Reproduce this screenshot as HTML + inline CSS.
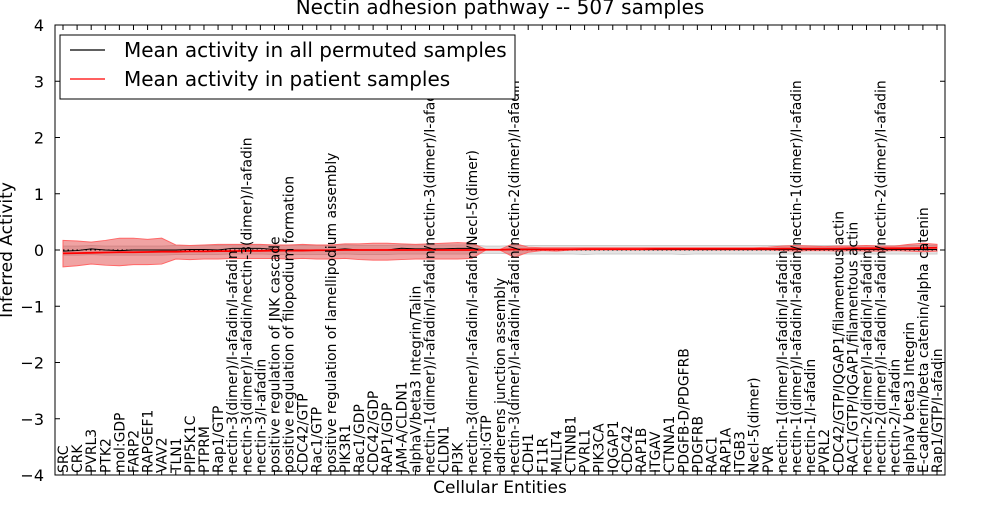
<!DOCTYPE html>
<html><head><meta charset="utf-8"><style>
body{margin:0;background:#fff}
svg text{font-family:"DejaVu Sans","Liberation Sans",sans-serif}
</style></head><body>
<svg id="chart" width="1000" height="500" xmlns="http://www.w3.org/2000/svg">
<rect width="1000" height="500" fill="#fff"/>
<g id="bands"></g>
<g id="lines"></g>
<g id="ticks"></g>
<g id="xlabels"></g>
<rect x="55" y="25" width="890" height="450" fill="none" stroke="#000" stroke-width="1"/>
<text x="500" y="14" font-size="20" text-anchor="middle">Nectin adhesion pathway -- 507 samples</text>
<text transform="translate(12,250) rotate(-90)" font-size="17" text-anchor="middle">Inferred Activity</text>
<text x="500" y="493" font-size="17" text-anchor="middle">Cellular Entities</text>
<g>
<rect x="60" y="35" width="455" height="64" fill="#fff" stroke="#000" stroke-width="1"/>
<line x1="70" y1="50" x2="105" y2="50" stroke="#000" stroke-width="1.2"/>
<text x="124" y="57" font-size="20">Mean activity in all permuted samples</text>
<line x1="70" y1="79" x2="105" y2="79" stroke="#f00" stroke-width="1.2"/>
<text x="124" y="86" font-size="20">Mean activity in patient samples</text>
</g>
</svg>
<script>
const categories=["SRC","CRK","PVRL3","PTK2","mol:GDP","FARP2","RAPGEF1","VAV2","TLN1","PIP5K1C","PTPRM","Rap1/GTP","nectin-3(dimer)/I-afadin/I-afadin","nectin-3(dimer)/I-afadin/nectin-3(dimer)/I-afadin","nectin-3/I-afadin","positive regulation of JNK cascade","positive regulation of filopodium formation","CDC42/GTP","Rac1/GTP","positive regulation of lamellipodium assembly","PIK3R1","Rac1/GDP","CDC42/GDP","RAP1/GDP","JAM-A/CLDN1","alphaV/beta3 Integrin/Talin","nectin-1(dimer)/I-afadin/I-afadin/nectin-3(dimer)/I-afadin","CLDN1","PI3K","nectin-3(dimer)/I-afadin/I-afadin/Necl-5(dimer)","mol:GTP","adherens junction assembly","nectin-3(dimer)/I-afadin/I-afadin/nectin-2(dimer)/I-afadin","CDH1","F11R","MLLT4","CTNNB1","PVRL1","PIK3CA","IQGAP1","CDC42","RAP1B","ITGAV","CTNNA1","PDGFB-D/PDGFRB","PDGFRB","RAC1","RAP1A","ITGB3","Necl-5(dimer)","PVR","nectin-1(dimer)/I-afadin/I-afadin","nectin-1(dimer)/I-afadin/I-afadin/nectin-1(dimer)/I-afadin","nectin-1/I-afadin","PVRL2","CDC42/GTP/IQGAP1/filamentous actin","RAC1/GTP/IQGAP1/filamentous actin","nectin-2(dimer)/I-afadin/I-afadin","nectin-2(dimer)/I-afadin/I-afadin/nectin-2(dimer)/I-afadin","nectin-2/I-afadin","alphaV beta3 Integrin","E-cadherin/beta catenin/alpha catenin","Rap1/GTP/I-afadin"];
const permMean=[-0.02,-0.01,0.02,0,-0.01,0,0,0,0,0.01,0.01,0,0.03,0.03,0.03,0.01,0,0,0,0,0.02,0,0,0,0.03,0.02,0.02,0.02,0.03,0.03,0,0,0.02,0.01,0.01,0.01,0.01,0.01,0.01,0.01,0.01,0.01,0.01,0.01,0.01,0.01,0.01,0.01,0.01,0.01,0.01,0.01,0.01,0.01,0.01,0.01,0.01,0.01,0.01,0.01,0.01,0.01,0.01];
const permLow=[-0.09,-0.09,-0.08,-0.09,-0.09,-0.09,-0.09,-0.09,-0.08,-0.08,-0.08,-0.08,-0.07,-0.07,-0.07,-0.08,-0.08,-0.08,-0.08,-0.08,-0.07,-0.08,-0.08,-0.08,-0.07,-0.07,-0.07,-0.07,-0.07,-0.07,-0.06,-0.06,-0.07,-0.07,-0.07,-0.07,-0.07,-0.08,-0.07,-0.07,-0.07,-0.07,-0.07,-0.07,-0.08,-0.07,-0.07,-0.07,-0.07,-0.07,-0.07,-0.07,-0.07,-0.07,-0.07,-0.07,-0.07,-0.07,-0.07,-0.07,-0.07,-0.07,-0.07];
const permHigh=[0.07,0.07,0.08,0.07,0.07,0.07,0.07,0.07,0.08,0.08,0.08,0.08,0.09,0.09,0.09,0.08,0.08,0.08,0.08,0.08,0.09,0.08,0.08,0.08,0.09,0.09,0.09,0.09,0.09,0.09,0.07,0.07,0.08,0.08,0.08,0.08,0.08,0.08,0.08,0.08,0.08,0.08,0.08,0.08,0.08,0.08,0.08,0.08,0.08,0.08,0.08,0.08,0.08,0.08,0.08,0.08,0.08,0.08,0.08,0.08,0.08,0.08,0.08];
const patMean=[-0.06,-0.055,-0.05,-0.045,-0.04,-0.04,-0.035,-0.03,-0.03,-0.025,-0.025,-0.02,-0.02,-0.015,-0.015,-0.01,-0.01,-0.01,-0.005,-0.005,0,0,0,0,0,0,0,0,0,0,0.005,0.005,0.01,0.01,0.01,0.01,0.01,0.015,0.015,0.015,0.015,0.015,0.02,0.02,0.02,0.02,0.02,0.02,0.02,0.02,0.02,0.025,0.025,0.025,0.025,0.025,0.03,0.03,0.03,0.03,0.03,0.035,0.04];
const patLow=[-0.3,-0.28,-0.25,-0.27,-0.28,-0.26,-0.26,-0.25,-0.16,-0.17,-0.16,-0.16,-0.15,-0.15,-0.15,-0.15,-0.16,-0.15,-0.16,-0.16,-0.15,-0.17,-0.18,-0.18,-0.17,-0.16,-0.16,-0.16,-0.16,-0.15,0,0,-0.13,-0.04,-0.01,-0.02,0,0,0,0,0,0,0,0,0,0,0,0,0,0,0,-0.01,-0.02,-0.01,-0.01,-0.02,-0.01,-0.02,-0.02,-0.01,-0.02,-0.03,-0.02];
const patHigh=[0.17,0.16,0.14,0.17,0.21,0.21,0.19,0.21,0.09,0.08,0.09,0.1,0.1,0.1,0.1,0.09,0.09,0.1,0.09,0.09,0.11,0.11,0.12,0.12,0.11,0.1,0.11,0.12,0.13,0.12,0.01,0.01,0.12,0.05,0.04,0.04,0.04,0.04,0.04,0.04,0.04,0.04,0.04,0.04,0.04,0.04,0.04,0.04,0.04,0.04,0.05,0.07,0.08,0.07,0.06,0.07,0.07,0.08,0.07,0.07,0.1,0.12,0.1];
const yTicks=[-4,-3,-2,-1,0,1,2,3,4];
const NS="http://www.w3.org/2000/svg";
const X0=63,X1=937,Y0=25,Y1=475;
const xs=i=>X0+(X1-X0)*i/(categories.length-1);
const ys=v=>Y1-(v+4)/8*(Y1-Y0);
function mk(tag,attrs,parent){const e=document.createElementNS(NS,tag);for(const k in attrs)e.setAttribute(k,attrs[k]);parent.appendChild(e);return e;}
function bandPath(lo,hi){let d="M"+lo.map((v,i)=>xs(i)+","+ys(v)).join("L");d+="L"+hi.map((v,i)=>[xs(i),ys(v)]).reverse().map(p=>p.join(",")).join("L")+"Z";return d;}
function linePath(a){return "M"+a.map((v,i)=>xs(i)+","+ys(v)).join("L");}
const bands=document.getElementById('bands'),lines=document.getElementById('lines'),ticks=document.getElementById('ticks'),xl=document.getElementById('xlabels');
let p=mk('path',{d:bandPath(permLow,permHigh),fill:'#bbb','fill-opacity':0.4,stroke:'#ccc','stroke-width':1},bands);


p=mk('path',{d:bandPath(patLow,patHigh),fill:'#dd3333','fill-opacity':0.45,stroke:'#f66','stroke-width':1},bands);


p=mk('line',{x1:X0,x2:X1,y1:ys(0),y2:ys(0),stroke:'#000','stroke-dasharray':'1.5,3','stroke-width':1},lines);


p=mk('path',{d:linePath(permMean),fill:'none',stroke:'#000','stroke-width':1},lines);


p=mk('path',{d:linePath(patMean),fill:'none',stroke:'#f00','stroke-width':1.8},lines);


yTicks.forEach(v=>{
  const y=ys(v);
  mk('line',{x1:55,x2:60,y1:y,y2:y,stroke:'#000'},ticks);
  mk('line',{x1:940,x2:945,y1:y,y2:y,stroke:'#000'},ticks);
  const t=mk('text',{x:44,y:y+6,'font-size':16,'text-anchor':'end'},ticks);
  t.textContent=(v<0?"\u2212"+(-v):v);
  
  
});
categories.forEach((c,i)=>{
  const x=xs(i);
  mk('line',{x1:x,x2:x,y1:475,y2:470,stroke:'#000'},ticks);
  mk('line',{x1:x,x2:x,y1:25,y2:30,stroke:'#000'},ticks);
  const t=mk('text',{transform:`translate(${x+5},473) rotate(-90)`,'font-size':13.9},xl);
  t.textContent=c;
  
  
});
</script>
</body></html>
